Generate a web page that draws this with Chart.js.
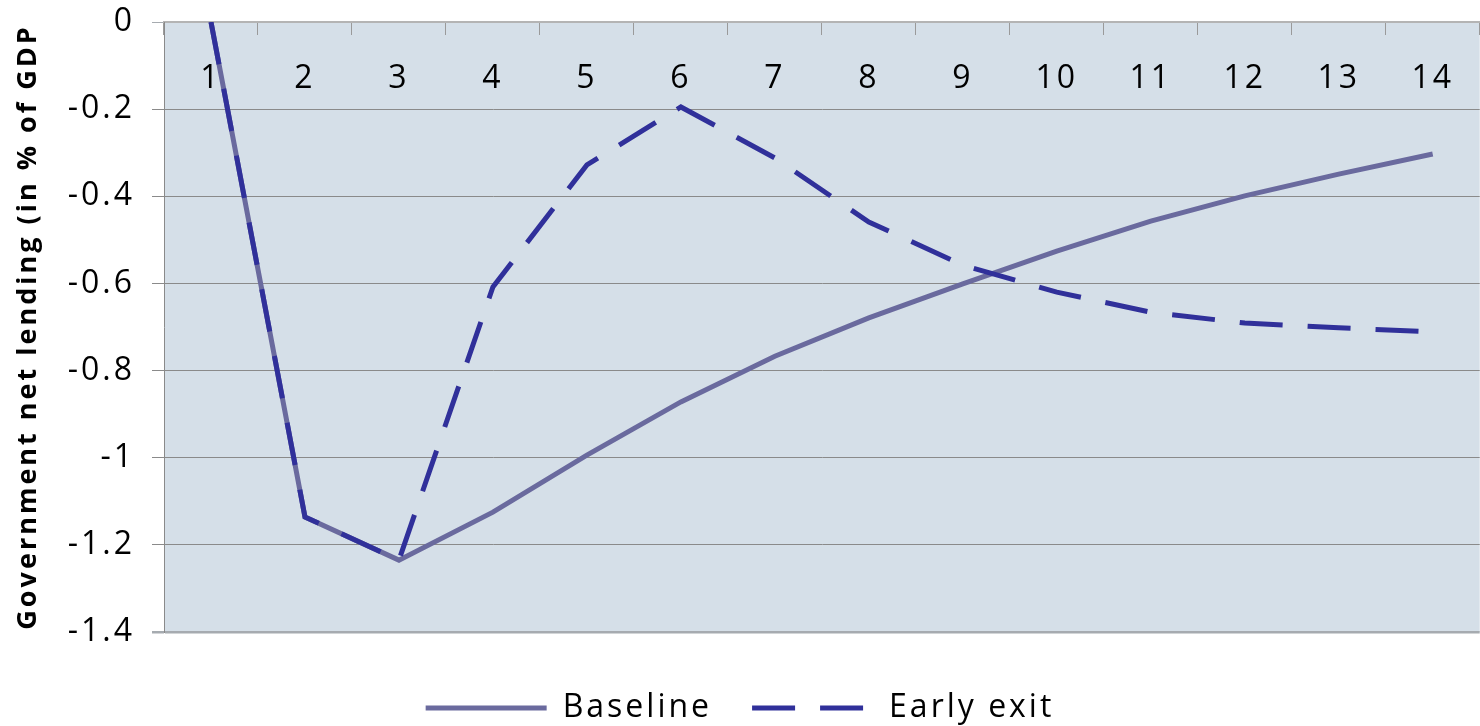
<!DOCTYPE html>
<html>
<head>
<meta charset="utf-8">
<title>Government net lending</title>
<script src="https://cdn.jsdelivr.net/npm/chart.js@4.4.1/dist/chart.umd.min.js"></script>
<style>
  html, body { margin: 0; padding: 0; background: #ffffff; }
  #wrap { position: relative; width: 1480px; height: 726px; }
</style>
</head>
<body>
<div id="wrap"><canvas id="chart"></canvas></div>
<script>
// Periods after the shock
const periods = ['1', '2', '3', '4', '5', '6', '7', '8', '9', '10', '11', '12', '13', '14'];

// Government net lending, in % of GDP
const baseline  = [0, -1.136, -1.235, -1.125, -0.994, -0.872, -0.767, -0.679, -0.601, -0.526, -0.457, -0.399, -0.349, -0.303];
const earlyExit = [0, -1.136, -1.235, -0.608, -0.328, -0.195, -0.312, -0.459, -0.558, -0.620, -0.666, -0.691, -0.702, -0.711];

// Value-axis labels, top to bottom
const yTickValues = [0, -0.2, -0.4, -0.6, -0.8, -1, -1.2, -1.4];
const yTickLabels = ['0', '-0.2', '-0.4', '-0.6', '-0.8', '-1', '-1.2', '-1.4'];

const seriesNames = ['Baseline', 'Early exit'];
const axisTitle = 'Government net lending (in % of GDP';

const FONT = '"Open Sans", "Liberation Sans", sans-serif';
const PLOT_BG = '#d5dfe8';

// Wide lettering used by all chart text
const spacingPlugin = {
  id: 'letterSpacing',
  beforeLayout(chart) { chart.ctx.letterSpacing = '3px'; },
  beforeDraw(chart) { chart.ctx.letterSpacing = '3px'; }
};

// Shaded plot area
const plotBackground = {
  id: 'plotBackground',
  beforeDraw(chart) {
    const { ctx, chartArea: a } = chart;
    ctx.save();
    ctx.fillStyle = PLOT_BG;
    ctx.fillRect(a.left, a.top, a.right - a.left, a.bottom - a.top);
    ctx.restore();
  }
};

function nearly(a, b) { return Math.abs(a - b) < 1e-6; }

// Legend entries drawn as line samples carrying each series' dash pattern
function legendLabels(chart) {
  const items = Chart.defaults.plugins.legend.labels.generateLabels(chart);
  items.forEach(item => {
    const ds = chart.data.datasets[item.datasetIndex];
    item.lineDash = ds.borderDash || [];
    item.lineWidth = ds.borderWidth;
    item.strokeStyle = ds.borderColor;
    item.pointStyle = 'line';
  });
  return items;
}

new Chart(document.getElementById('chart'), {
  type: 'line',
  data: {
    labels: periods,
    datasets: [
      {
        label: seriesNames[0],
        data: baseline,
        borderColor: '#6a6a9e',
        backgroundColor: '#6a6a9e',
        borderWidth: 5,
        pointRadius: 0,
        tension: 0,
        order: 1
      },
      {
        label: seriesNames[1],
        data: earlyExit,
        borderColor: '#30309a',
        backgroundColor: '#30309a',
        borderWidth: 5,
        borderDash: [43, 25],
        pointRadius: 0,
        tension: 0,
        order: 0
      }
    ]
  },
  options: {
    responsive: true,
    maintainAspectRatio: false,
    animation: false,
    devicePixelRatio: 1,
    layout: { padding: { top: 22, right: 0, bottom: -8, left: 0 } },
    plugins: {
      tooltip: { enabled: false },
      legend: {
        position: 'bottom',
        align: 'center',
        title: { display: true, text: ' ', font: { family: FONT, size: 20, lineHeight: 1 }, padding: 0 },
        labels: {
          usePointStyle: true,
          pointStyle: 'line',
          pointStyleWidth: 121,
          padding: 40,
          color: '#000000',
          font: { family: FONT, size: 32 },
          generateLabels: legendLabels,
          sort: (a, b) => a.datasetIndex - b.datasetIndex
        }
      }
    },
    scales: {
      x: {
        type: 'category',
        position: { y: 0 },
        offset: true,
        grid: {
          offset: true,
          drawOnChartArea: false,
          drawTicks: true,
          tickLength: 12,
          color: '#9a9a9a',
          lineWidth: 1
        },
        border: { display: true, color: '#b4b4b4', width: 2 },
        ticks: {
          color: '#000000',
          font: { family: FONT, size: 32 },
          padding: 26,
          maxRotation: 0,
          autoSkip: false
        }
      },
      y: {
        type: 'linear',
        position: 'left',
        min: -1.4,
        max: 0,
        afterBuildTicks(scale) {
          scale.ticks = yTickValues.map(v => ({ value: v }));
        },
        afterFit(scale) {
          scale.width = 164;
          scale.paddingTop = 0;
          scale.paddingBottom = 0;
        },
        grid: {
          drawTicks: true,
          tickLength: 12,
          color: ctx => (ctx.tick && (nearly(ctx.tick.value, -1.4) || nearly(ctx.tick.value, 0))) ? '#a6abb0' : '#8a8a8a',
          lineWidth: ctx => (ctx.tick && nearly(ctx.tick.value, -1.4)) ? 2.5 : 1
        },
        border: { display: true, color: '#8a8a8a', width: 1 },
        ticks: {
          color: '#000000',
          font: { family: FONT, size: 32 },
          padding: 17,
          callback: (value, index) => yTickLabels[index]
        },
        title: {
          display: true,
          text: axisTitle,
          color: '#000000',
          font: { family: FONT, size: 27, weight: 'bold' },
          padding: { top: 12, bottom: 0 }
        }
      }
    }
  },
  plugins: [spacingPlugin, plotBackground]
});
</script>
</body>
</html>
